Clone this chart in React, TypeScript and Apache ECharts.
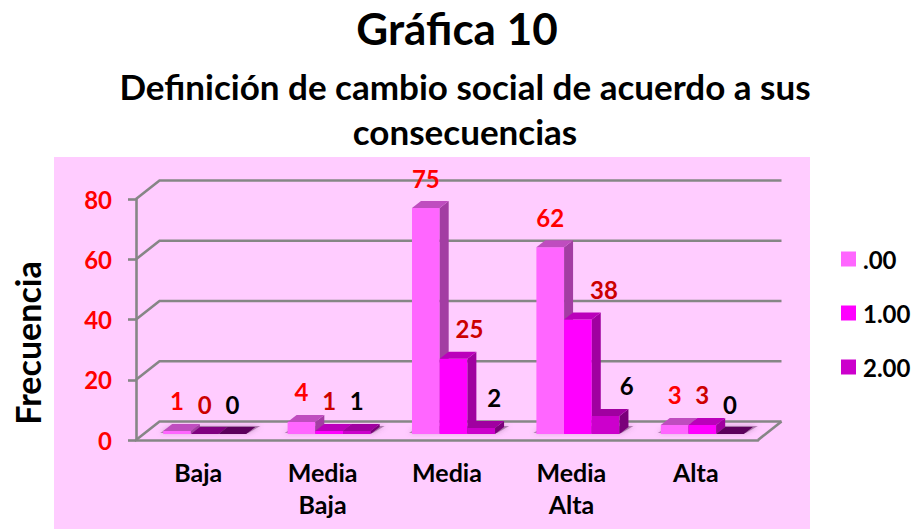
import React, { useEffect, useRef } from "react";
import * as echarts from "echarts";

const CATEGORIES = ["Baja", "Media\nBaja", "Media", "Media\nAlta", "Alta"];
const SERIES_NAMES = [".00", "1.00", "2.00"];
const VALUES_00 = [1, 4, 75, 62, 3];
const VALUES_10 = [0, 1, 25, 38, 3];
const VALUES_20 = [0, 1, 2, 6, 0];
const Y_TICKS = [0, 20, 40, 60, 80];

const FONT = "Lato, Carlito, sans-serif";
const GRAY = "#868686";
const LINE_W = 2.6;
const DEPTH_X = 23.5;
const DEPTH_Y = 18.5;
const BAR_FRACTION = 0.2226;
const BASE_LIFT = 6;
const GROUP_START = -0.2814; // group's left edge relative to band centre, in band widths
const BAR_DX = 9;
const BAR_DY = 7;

const LOOK = [
  { front: "#ff66ff", top: "#bf4dbf", side: "#a33da3", flat: "#bf4dbf", label: "#ff0000" },
  { front: "#ff00ff", top: "#bb00bb", side: "#a000a0", flat: "#800080", label: "#cc0000" },
  { front: "#cc00cc", top: "#a000a0", side: "#7a007a", flat: "#5c005c", label: "#000000" },
];
// labels that sit to the right of their bar in the reference, by "series:category"
const LABEL_NUDGE: Record<string, number> = { "1:2": 16, "1:3": 26, "2:2": 13, "2:3": 21 };

function barRenderer(s: number) {
  return (params: any, api: any) => {
    const cat = api.value(0);
    const val = api.value(1);
    const band = api.size([1, 0])[0];
    const w = band * BAR_FRACTION;
    const [cx, yTop0] = api.coord([cat, val]);
    const base = api.coord([cat, 0])[1] - BASE_LIFT;
    const top = yTop0 - BASE_LIFT;
    const x0 = cx + band * GROUP_START + s * w;
    const x1 = x0 + w;
    const look = LOOK[s];
    const children: any[] = [];
    if (val > 0) {
      children.push({
        type: "polygon",
        shape: { points: [[x0, base], [x1, base], [x1, top], [x0, top]] },
        style: { fill: look.front },
      });
      children.push({
        type: "polygon",
        shape: { points: [[x1, base], [x1 + BAR_DX, base - BAR_DY], [x1 + BAR_DX, top - BAR_DY], [x1, top]] },
        style: { fill: look.side },
      });
    }
    children.push({
      type: "polygon",
      shape: { points: [[x0, top], [x1, top], [x1 + BAR_DX, top - BAR_DY], [x0 + BAR_DX, top - BAR_DY]] },
      style: { fill: val > 0 ? look.top : look.flat },
    });
    children.push({
      type: "text",
      z2: 50,
      style: {
        x: x0 + w / 2 + (LABEL_NUDGE[`${s}:${cat}`] || 0),
        y: top - 30,
        text: String(val),
        fill: look.label,
        font: `bold 24px ${FONT}`,
        align: "center",
        verticalAlign: "middle",
      },
    });
    return { type: "group", children };
  };
}

function shadowRenderer(params: any, api: any) {
  const cat = api.value(0);
  const band = api.size([1, 0])[0];
  const [cx, y0] = api.coord([cat, 0]);
  const base = y0 - BASE_LIFT;
  const x0 = cx + band * GROUP_START;
  const x1 = x0 + band * BAR_FRACTION * 3;
  return {
    type: "polygon",
    shape: { points: [[x0 - 3, base - 1], [x1 + 2, base - 1], [x1 + 14, base - 8], [x0 + 8, base - 8]] },
    style: { fill: "rgba(120,70,120,0.55)", shadowBlur: 5, shadowColor: "rgba(120,70,120,0.7)" },
  };
}

function frameRenderer(params: any, api: any) {
  const v = api.value(1);
  const band = api.size([1, 0])[0];
  const [cx, y] = api.coord([0, v]);
  const left = cx - band / 2;
  const right = left + band * CATEGORIES.length;
  const children: any[] = [
    {
      type: "polyline",
      shape: { points: [[left, y], [left + DEPTH_X, y - DEPTH_Y], [right + DEPTH_X, y - DEPTH_Y]] },
      style: { stroke: GRAY, lineWidth: LINE_W, fill: "none" },
    },
  ];
  if (v === 0) {
    children.push({
      type: "line",
      shape: { x1: right, y1: y, x2: right + DEPTH_X, y2: y - DEPTH_Y },
      style: { stroke: GRAY, lineWidth: LINE_W },
    });
  }
  return { type: "group", children };
}

export default function App() {
  const ref = useRef<HTMLDivElement>(null);
  useEffect(() => {
    const chart = echarts.init(ref.current!, null, { renderer: "svg" });
    const allValues = [VALUES_00, VALUES_10, VALUES_20];
    chart.setOption({
      animation: false,
      backgroundColor: "#ffffff",
      title: [
        {
          text: "Gráfica 10",
          left: 452,
          top: 1,
          textAlign: "center",
          textStyle: { fontFamily: FONT, fontWeight: "bold", fontSize: 44, color: "#000" },
        },
        {
          text: "Definición de cambio social de acuerdo a sus\nconsecuencias",
          left: 460,
          top: 58,
          textAlign: "center",
          textStyle: { fontFamily: FONT, fontWeight: "bold", fontSize: 35, lineHeight: 45, color: "#000" },
        },
      ],
      graphic: [
        {
          type: "rect",
          z: -10,
          shape: { x: 54, y: 157, width: 756, height: 372 },
          style: { fill: "#ffccff" },
        },
        {
          type: "text",
          x: 27,
          y: 343,
          rotation: Math.PI / 2,
          style: {
            text: "Frecuencia",
            font: `bold 34px ${FONT}`,
            fill: "#000",
            align: "center",
            verticalAlign: "middle",
          },
        },
      ],
      legend: {
        show: true,
        orient: "vertical",
        left: 841,
        top: 247,
        padding: 0,
        itemWidth: 15,
        itemHeight: 15,
        itemGap: 30,
        icon: "rect",
        data: SERIES_NAMES,
        textStyle: { fontFamily: FONT, fontWeight: "bold", fontSize: 24, color: "#000", padding: [0, 0, 0, 2] },
        selectedMode: false,
      },
      grid: { left: 136, width: 622, top: 199, height: 241 },
      xAxis: {
        type: "category",
        data: CATEGORIES,
        axisLine: { show: true, lineStyle: { color: GRAY, width: LINE_W } },
        axisTick: { show: false },
        axisLabel: {
          interval: 0,
          margin: 16,
          fontFamily: FONT,
          fontWeight: "bold",
          fontSize: 25,
          lineHeight: 32,
          color: "#000",
        },
      },
      yAxis: {
        type: "value",
        min: 0,
        max: 80,
        interval: 20,
        splitLine: { show: false },
        axisLine: { show: true, lineStyle: { color: GRAY, width: LINE_W } },
        axisTick: { show: true, length: 8, lineStyle: { color: GRAY, width: LINE_W } },
        axisLabel: {
          margin: 24,
          fontFamily: FONT,
          fontWeight: "bold",
          fontSize: 24,
          color: "#ff0000",
        },
      },
      series: [
        {
          type: "custom",
          name: "frame",
          z: 1,
          data: Y_TICKS.map((v) => [0, v]),
          encode: { x: 0, y: 1 },
          renderItem: frameRenderer,
          silent: true,
        },
        {
          type: "custom",
          name: "shadow",
          z: 2,
          data: CATEGORIES.map((_, i) => [i, 0]),
          encode: { x: 0, y: 1 },
          renderItem: shadowRenderer,
          silent: true,
        },
        ...SERIES_NAMES.map((name, s) => ({
          type: "custom",
          name,
          z: 3 + s,
          itemStyle: { color: LOOK[s].front },
          data: allValues[s].map((v, i) => [i, v]),
          encode: { x: 0, y: 1 },
          renderItem: barRenderer(s),
        })),
      ],
    });
    return () => chart.dispose();
  }, []);
  return (
    <div
      ref={ref}
      style={{ position: "absolute", left: 0, top: 0, width: 913, height: 529 }}
    />
  );
}
